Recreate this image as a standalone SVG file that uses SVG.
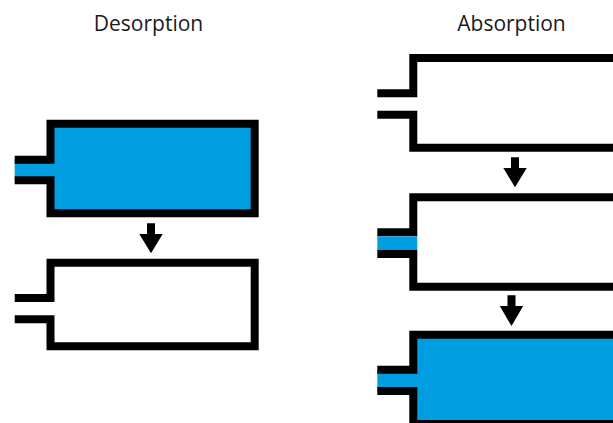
<svg xmlns="http://www.w3.org/2000/svg" width="613" height="423" viewBox="0 0 613 423">
  <style>
    .title { font-family: "Open Sans", "Liberation Sans", sans-serif; font-size: 21px; fill: #1a1a1a; text-anchor: middle; }
    .wall { stroke: #000; stroke-width: 8; stroke-linejoin: miter; stroke-linecap: butt; }
    .full { fill: #009EE0; }
    .empty { fill: #fff; }
    .gas { fill: #009EE0; }
    .arrow { fill: #000; }
  </style>
  <rect width="613" height="423" fill="#fff"/>

  <text class="title" x="148.5" y="31">Desorption</text>
  <text class="title" x="511.5" y="31">Absorption</text>

  <!-- Desorption: filled chamber empties -->
  <g id="des-full">
    <path class="wall full" d="M14.7,159.7 H50.5 V123.7 H254.7 V213.3 H50.5 V180.3 H14.7"/>
  </g>
  <g id="des-empty">
    <path class="wall empty" d="M14.7,298 H50.5 V262.7 H254.7 V346.3 H50.5 V319.3 H14.7"/>
  </g>

  <!-- Absorption: empty chamber, gas enters, chamber fills -->
  <g id="abs-empty">
    <path class="wall empty" d="M377.3,93.3 H413.3 V58 H640 V147.8 H413.3 V114.7 H377.3"/>
  </g>
  <g id="abs-inflow">
    <path class="wall empty" d="M377.3,232.3 H413.3 V197.3 H640 V286.7 H413.3 V254 H377.3"/>
    <rect class="gas" x="377.3" y="236.3" width="40" height="13.7"/>
  </g>
  <g id="abs-full">
    <path class="wall full" d="M377.3,369.7 H413.3 V334.7 H640 V424 H413.3 V391 H377.3"/>
  </g>

  <!-- transition arrows -->
  <g id="connectors">
    <polygon class="arrow" points="147,223.3 155,223.3 155,234 162.7,234 151,253.3 139.3,234 147,234"/>
    <polygon class="arrow" points="511,157.3 519,157.3 519,168 526.7,168 515,187.3 503.3,168 511,168"/>
    <polygon class="arrow" points="507.5,295.3 515.5,295.3 515.5,306 523.2,306 511.5,326 499.8,306 507.5,306"/>
  </g>
</svg>
